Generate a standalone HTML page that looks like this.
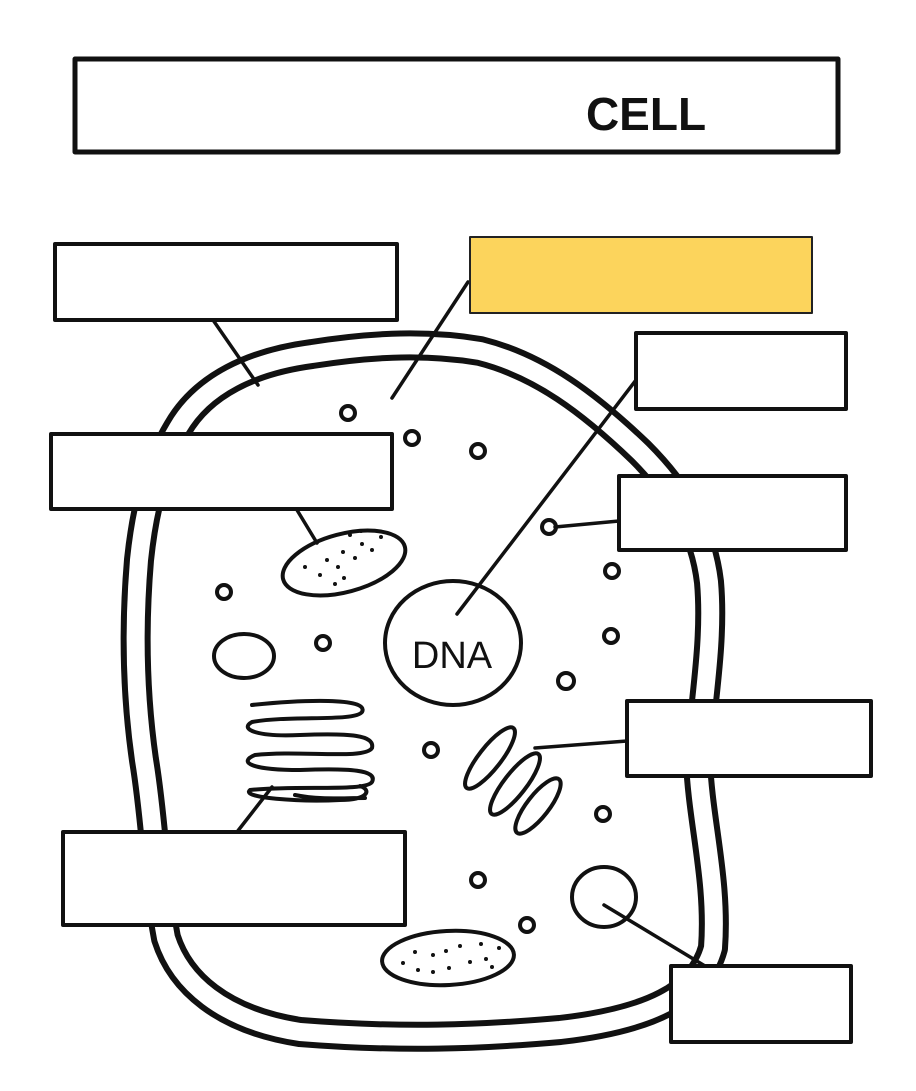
<!DOCTYPE html>
<html><head><style>body{margin:0;background:#fff}svg{display:block}</style></head><body>
<svg width="916" height="1091" viewBox="0 0 916 1091" xmlns="http://www.w3.org/2000/svg">
<rect width="916" height="1091" fill="#fff"/>
<g fill="none" stroke-linecap="round" stroke-linejoin="round">
<path d="M178,428 C203,385 252,362 312,354 C362,346 420,341 480,351 C540,366 590,404 640,452 C680,492 703,532 709,582 C714,640 703,700 698,760 C700,820 718,880 713,948 C700,996 648,1020 560,1030 C480,1037 400,1040 300,1032 C222,1020 180,982 166,938 C155,880 154,820 144,760 C134,690 134,620 139,560 C144,512 154,468 178,428 Z" stroke="#111" stroke-width="30"/>
<path d="M178,428 C203,385 252,362 312,354 C362,346 420,341 480,351 C540,366 590,404 640,452 C680,492 703,532 709,582 C714,640 703,700 698,760 C700,820 718,880 713,948 C700,996 648,1020 560,1030 C480,1037 400,1040 300,1032 C222,1020 180,982 166,938 C155,880 154,820 144,760 C134,690 134,620 139,560 C144,512 154,468 178,428 Z" stroke="#fff" stroke-width="18"/>
<g stroke="#111" stroke-width="3.5">
<line x1="213" y1="320" x2="258" y2="385"/><line x1="468" y1="282" x2="392" y2="398"/>
<line x1="636" y1="380" x2="457" y2="614"/><line x1="297" y1="510" x2="317" y2="543"/>
<line x1="555" y1="527" x2="619" y2="521"/><line x1="535" y1="748" x2="627" y2="741"/>
<line x1="272" y1="787" x2="237" y2="832"/><line x1="604" y1="905" x2="705" y2="966"/>
</g>
<g stroke="#111" stroke-width="4">
<circle cx="348" cy="413" r="7"/><circle cx="412" cy="438" r="7"/><circle cx="478" cy="451" r="7"/><circle cx="549" cy="527" r="7"/>
<circle cx="224" cy="592" r="7"/><circle cx="323" cy="643" r="7"/><circle cx="612" cy="571" r="7"/><circle cx="611" cy="636" r="7"/>
<circle cx="566" cy="681" r="8"/><circle cx="431" cy="750" r="7"/><circle cx="603" cy="814" r="7"/><circle cx="478" cy="880" r="7"/><circle cx="527" cy="925" r="7"/>
<ellipse cx="244" cy="656" rx="30" ry="22"/>
<ellipse cx="453" cy="643" rx="68" ry="62"/>
<ellipse cx="604" cy="897" rx="32" ry="30"/>
<ellipse cx="344" cy="563" rx="63" ry="29" transform="rotate(-15 344 563)"/>
<ellipse cx="448" cy="958" rx="66" ry="27" transform="rotate(-3 448 958)"/>
<path d="M252,705 C300,700 370,697 362,712 C355,722 290,715 252,722 C238,730 260,737 300,735 C350,733 375,735 372,748 C365,760 300,750 255,755 C238,762 250,770 300,770 C350,768 378,770 372,782 C365,792 300,785 250,790 C240,798 300,802 340,800 C368,800 372,790 360,786 M295,795 C320,800 340,798 365,798"/>
<ellipse cx="490" cy="758" rx="38" ry="11" transform="rotate(-52 490 758)"/>
<ellipse cx="515" cy="784" rx="38" ry="11" transform="rotate(-52 515 784)"/>
<ellipse cx="538" cy="806" rx="34" ry="11" transform="rotate(-52 538 806)"/>
</g>
<g fill="#111">
<circle cx="305" cy="567" r="2"/><circle cx="320" cy="575" r="2"/><circle cx="327" cy="560" r="2"/><circle cx="338" cy="567" r="2"/><circle cx="343" cy="552" r="2"/><circle cx="355" cy="558" r="2"/><circle cx="362" cy="544" r="2"/><circle cx="372" cy="550" r="2"/><circle cx="350" cy="535" r="2"/><circle cx="361" cy="531" r="2"/><circle cx="381" cy="537" r="2"/><circle cx="344" cy="578" r="2"/><circle cx="335" cy="584" r="2"/>
<circle cx="403" cy="963" r="2"/><circle cx="415" cy="952" r="2"/><circle cx="418" cy="970" r="2"/><circle cx="433" cy="955" r="2"/><circle cx="433" cy="972" r="2"/><circle cx="446" cy="951" r="2"/><circle cx="449" cy="968" r="2"/><circle cx="460" cy="946" r="2"/><circle cx="470" cy="962" r="2"/><circle cx="481" cy="944" r="2"/><circle cx="486" cy="959" r="2"/><circle cx="499" cy="948" r="2"/><circle cx="492" cy="967" r="2"/>
</g>
<rect x="75" y="59" width="763" height="93" fill="#fff" stroke="#111" stroke-width="5"/>
<rect x="55" y="244" width="342" height="76" fill="#fff" stroke="#111" stroke-width="4"/>
<rect x="470" y="237" width="342" height="76" fill="#fcd45c" stroke="#222" stroke-width="2"/>
<rect x="636" y="333" width="210" height="76" fill="#fff" stroke="#111" stroke-width="4"/>
<rect x="51" y="434" width="341" height="75" fill="#fff" stroke="#111" stroke-width="4"/>
<rect x="619" y="476" width="227" height="74" fill="#fff" stroke="#111" stroke-width="4"/>
<rect x="627" y="701" width="244" height="75" fill="#fff" stroke="#111" stroke-width="4"/>
<rect x="63" y="832" width="342" height="93" fill="#fff" stroke="#111" stroke-width="4"/>
<rect x="671" y="966" width="180" height="76" fill="#fff" stroke="#111" stroke-width="4"/>
</g>
<text x="646" y="130" font-family="Liberation Sans, sans-serif" font-size="46" font-weight="bold" fill="#111" text-anchor="middle">CELL</text>
<text x="452" y="668" font-family="Liberation Sans, sans-serif" font-size="38" fill="#111" text-anchor="middle">DNA</text>
</svg>
</body></html>
